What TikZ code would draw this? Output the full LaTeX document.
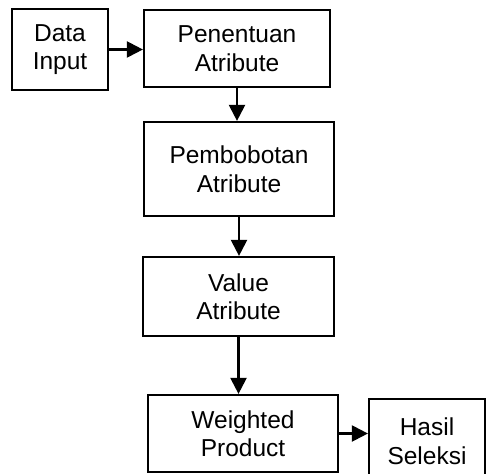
\documentclass[tikz,border=0pt]{standalone}
\usepackage{fontspec}
\setmainfont{Liberation Sans}
\usetikzlibrary{arrows.meta}

\tikzset{
  kotak/.style={draw=black, line width=2.2pt, align=center, inner sep=2pt,
    font=\fontsize{24.5}{28.5}\selectfont},
  panah/.style={line width=2.2pt, arrows=-{Triangle[length=16pt,width=16pt]}}
}

\begin{document}
\begin{tikzpicture}[x=1pt, y=-1pt]
          \useasboundingbox (0,0) rectangle (486,473);

          \node [kotak, minimum width=96pt, minimum height=81pt] (input) at (60,49.5) {Data\\Input}; % Draws a box
          \node [kotak, minimum width=186pt, minimum height=77pt] (tentu) at (237,48.5) {Penentuan\\Atribute}; % Draws a box
          \node [kotak, minimum width=190pt, minimum height=94pt] (bobot) at (239,169) {Pembobotan\\Atribute}; % Draws a box
          \node [kotak, minimum width=191pt, minimum height=79pt] (nilai) at (238.5,296.5) {Value\\Atribute}; % Draws a box
          \node [kotak, minimum width=190pt, minimum height=77pt] (wp) at (243,433.5) {Weighted\\Product}; % Draws a box
          \node [kotak, minimum width=116pt, minimum height=84pt] (hasil) at (427,441) {Hasil\\Seleksi}; % Draws a box

          \draw [panah] (input.east) -- (input.east -| tentu.west);
          \draw [panah] (tentu.south) -- (tentu.south |- bobot.north);
          \draw [panah] (bobot.south) -- (bobot.south |- nilai.north);
          \draw [panah] (nilai.south) -- (nilai.south |- wp.north);
          \draw [panah] (wp.east) -- (wp.east -| hasil.west);
        \end{tikzpicture}
\end{document}
